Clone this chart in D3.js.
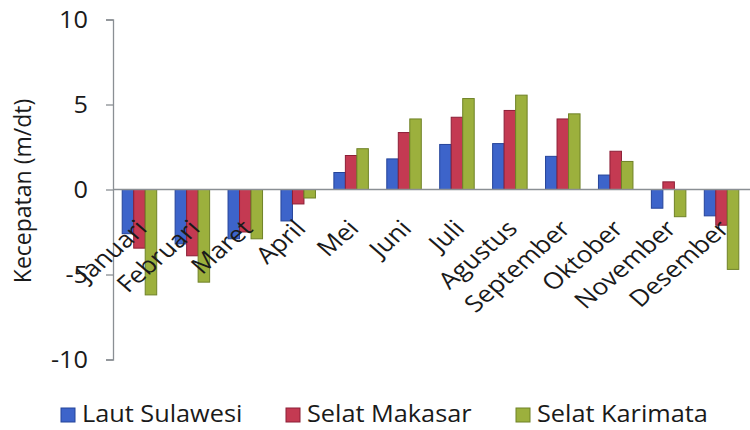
<!DOCTYPE html>
<html>
<head>
<meta charset="utf-8">
<script src="https://cdn.jsdelivr.net/npm/d3@7/dist/d3.min.js"></script>
<style>
  html, body { margin: 0; padding: 0; background: #fff; }
  svg { display: block; }
  text { font-family: "Open Sans", "DejaVu Sans", sans-serif; fill: #1a1a1a; }
</style>
</head>
<body>
<svg id="chart" width="750" height="430"></svg>
<script>
// Monthly current speed (m/dt) for three Indonesian seas
const months = ["Januari", "Februari", "Maret", "April", "Mei", "Juni", "Juli",
                "Agustus", "September", "Oktober", "November", "Desember"];
const seriesNames = ["Laut Sulawesi", "Selat Makasar", "Selat Karimata"];
const lautSulawesi  = [-2.6, -3.2, -2.9, -1.85, 1.0, 1.8, 2.65, 2.7, 1.95, 0.85, -1.1, -1.55];
const selatMakasar  = [-3.45, -3.9, -2.5, -0.85, 2.0, 3.35, 4.25, 4.65, 4.15, 2.25, 0.45, -2.1];
const selatKarimata = [-6.2, -5.45, -2.9, -0.5, 2.4, 4.15, 5.35, 5.55, 4.45, 1.65, -1.6, -4.7];
const yTicks = [10, 5, 0, -5, -10];
const yTitle = "Kecepatan (m/dt)";

const fills   = ["#3d64ca", "#c43a52", "#9cb03d"];
const strokes = ["#25449a", "#8c1f37", "#6f8227"];
const stretch = 1.1;

const svg = d3.select("#chart");
const allSeries = [lautSulawesi, selatMakasar, selatKarimata];
const rows = months.map((m, i) => ({ month: m, values: allSeries.map((s, k) => ({ k, v: s[i] })) }));

const x0 = d3.scaleBand().domain(months).range([113, 748]).paddingInner(0.348).paddingOuter(0.174);
const x1 = d3.scaleBand().domain(d3.range(seriesNames.length)).range([0, x0.bandwidth()]);
const y = d3.scaleLinear().domain([-10, 10]).range([359.5, 19.5]);

// bars
const groups = svg.append("g").selectAll("g").data(rows).join("g")
  .attr("transform", d => `translate(${x0(d.month)},0)`);
groups.selectAll("rect").data(d => d.values).join("rect")
  .attr("x", d => x1(d.k))
  .attr("width", x1.bandwidth())
  .attr("y", d => y(Math.max(0, d.v)))
  .attr("height", d => Math.abs(y(d.v) - y(0)))
  .attr("fill", d => fills[d.k])
  .attr("stroke", d => strokes[d.k])
  .attr("stroke-width", 1);

// y axis
const yAxis = svg.append("g").attr("transform", "translate(113,0)")
  .call(d3.axisLeft(y).tickValues(yTicks).tickSize(7).tickFormat(d3.format("d")));
yAxis.select(".domain").attr("stroke", "#8a8f94").attr("stroke-width", 1.3);
yAxis.selectAll(".tick line").attr("stroke", "#8a8f94").attr("stroke-width", 1.3);
yAxis.selectAll(".tick text").remove();
svg.append("g").selectAll("text").data(yTicks).join("text")
  .attr("transform", d => `translate(88,${y(d) + 8}) scale(${stretch},1)`)
  .attr("text-anchor", "end")
  .style("font-size", "23px")
  .text(d => d);

// zero line
svg.append("line")
  .attr("x1", 113).attr("x2", 750)
  .attr("y1", y(0)).attr("y2", y(0))
  .attr("stroke", "#8a8f94").attr("stroke-width", 1.3);

// category labels, slanted
svg.append("g").selectAll("text").data(months).join("text")
  .attr("transform", d => `translate(${x0(d) + x0.bandwidth() / 2 + 9},230) scale(1.15,1) rotate(-45)`)
  .attr("text-anchor", "end")
  .style("font-size", "23px")
  .text(d => d);

// y title
svg.append("text")
  .attr("transform", `translate(31,191) rotate(-90)`)
  .attr("text-anchor", "middle")
  .style("font-size", "23px")
  .text(yTitle);

// legend
const legendX = [61, 286, 516];
const legend = svg.append("g").selectAll("g").data(seriesNames).join("g")
  .attr("transform", (d, i) => `translate(${legendX[i]},0)`);
legend.append("rect")
  .attr("x", 0).attr("y", 408).attr("width", 14).attr("height", 14)
  .attr("fill", (d, i) => fills[i]).attr("stroke", (d, i) => strokes[i]);
legend.append("text")
  .attr("transform", `translate(21,422) scale(1.1,1)`)
  .style("font-size", "23px")
  .text(d => d);
</script>
</body>
</html>
